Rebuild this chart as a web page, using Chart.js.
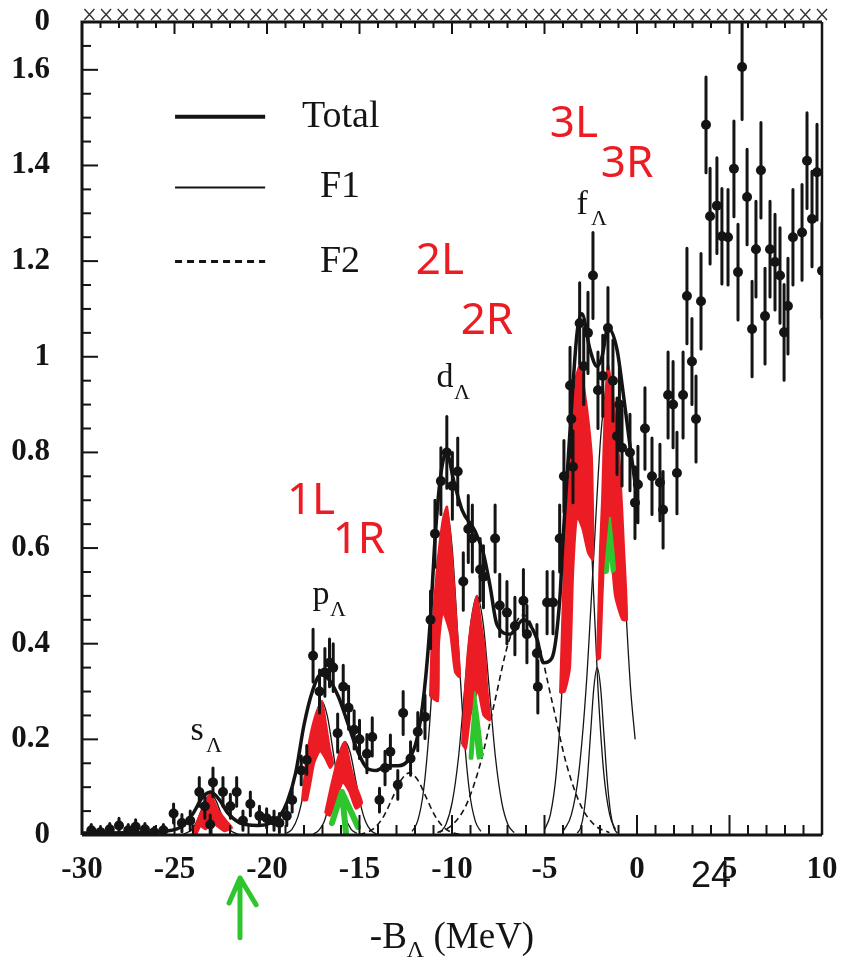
<!DOCTYPE html>
<html>
<head>
<meta charset="utf-8">
<title>-B&Lambda; spectrum</title>
<script src="https://cdn.jsdelivr.net/npm/chart.js@4.4.1/dist/chart.umd.min.js"></script>
<style>
  html, body { margin: 0; padding: 0; background: #fff; }
  #wrap { width: 843px; height: 963px; position: relative; }
</style>
</head>
<body>
<div id="wrap"><canvas id="spectrum"></canvas></div>
<script>
// measured spectrum: -B_Lambda (MeV), yield, error
const dataX = [-29.5,-29.0,-28.5,-28.0,-27.5,-27.1,-26.6,-26.1,-25.6,-25.05,-24.6,-24.15,-23.66,-23.36,-23.07,-22.92,-22.38,-21.98,-21.64,-21.3,
  -20.9,-20.41,-20.02,-19.62,-19.33,-18.93,-18.64,-18.15,-17.85,-17.51,-17.16,-16.87,-16.62,-16.42,-16.18,-15.88,-15.59,-15.29,-15.0,-14.6,
  -14.31,-13.92,-13.62,-13.33,-12.93,-12.64,-12.24,-11.85,-11.46,-11.16,-10.92,-10.6,-10.28,-9.98,-9.69,-9.39,-9.12,-8.9,-8.48,-8.3,
  -7.67,-7.42,-7.03,-6.6,-6.14,-5.95,-5.41,-5.36,-4.86,-4.54,-4.18,-3.95,-3.62,-3.55,-3.46,-3.1,-2.88,-2.65,-2.38,-2.11,
  -1.85,-1.57,-1.3,-1.08,-0.95,-0.81,-0.38,-0.11,0.05,0.43,0.81,1.24,1.41,1.68,1.95,2.16,2.49,2.7,2.97,3.19,
  3.46,3.73,3.95,4.32,4.59,4.92,5.24,5.46,5.68,5.95,6.22,6.43,6.7,6.92,7.19,7.46,7.73,7.95,8.16,8.43,
  8.92,9.19,9.46,9.73,10.0];
const dataY = [0.010,0.006,0.012,0.020,0.010,0.017,0.012,0.006,0.010,0.045,0.025,0.030,0.090,0.060,0.022,0.110,0.090,0.060,0.090,0.030,
  0.065,0.040,0.035,0.030,0.025,0.040,0.073,0.135,0.157,0.375,0.300,0.340,0.360,0.350,0.213,0.310,0.266,0.220,0.200,0.170,
  0.205,0.073,0.140,0.174,0.105,0.255,0.160,0.216,0.247,0.450,0.630,0.740,0.800,0.730,0.760,0.530,0.640,0.620,0.555,0.540,
  0.620,0.480,0.465,0.437,0.490,0.420,0.380,0.310,0.486,0.486,0.620,0.750,0.940,0.870,0.770,1.070,0.980,1.050,1.170,0.930,
  0.960,1.060,0.950,0.834,0.900,0.810,0.800,0.695,0.733,0.850,0.750,0.737,0.680,0.920,0.900,0.757,0.920,1.127,0.990,0.870,
  1.116,1.485,1.294,1.316,1.252,1.250,1.393,1.177,1.606,1.334,1.058,1.225,1.390,1.085,1.225,1.198,1.170,1.051,1.106,1.250,
  1.260,1.410,1.288,1.386,1.180];
const dataErr = [0.012,0.010,0.012,0.015,0.012,0.015,0.012,0.010,0.012,0.020,0.018,0.020,0.030,0.025,0.020,0.030,0.030,0.025,0.030,0.020,
  0.025,0.020,0.020,0.020,0.020,0.020,0.025,0.030,0.030,0.055,0.045,0.050,0.050,0.050,0.040,0.045,0.045,0.040,0.040,0.040,
  0.040,0.025,0.035,0.035,0.030,0.045,0.035,0.040,0.045,0.060,0.070,0.070,0.075,0.070,0.070,0.060,0.070,0.070,0.065,0.065,
  0.070,0.065,0.065,0.060,0.065,0.060,0.060,0.055,0.065,0.065,0.070,0.075,0.080,0.080,0.075,0.085,0.080,0.085,0.090,0.080,
  0.085,0.085,0.085,0.080,0.085,0.080,0.080,0.075,0.080,0.085,0.080,0.080,0.080,0.090,0.090,0.085,0.090,0.100,0.090,0.090,
  0.100,0.100,0.100,0.100,0.100,0.100,0.100,0.100,0.110,0.100,0.100,0.100,0.100,0.100,0.100,0.100,0.100,0.100,0.100,0.100,
  0.100,0.100,0.100,0.100,0.100];

// total fit
const totalFit = [[-30,0.004],[-27,0.005],[-25.5,0.008],[-24.6,0.018],[-24.0,0.045],[-23.5,0.078],[-23.05,0.09],[-22.6,0.075],
  [-22.1,0.045],[-21.5,0.026],[-20.5,0.02],[-19.8,0.025],[-19.3,0.04],[-18.9,0.07],[-18.45,0.13],[-18.0,0.23],[-17.55,0.3],
  [-17.1,0.335],[-16.65,0.325],[-16.15,0.29],[-15.6,0.23],[-15.1,0.175],[-14.6,0.14],[-14.1,0.135],[-13.5,0.145],[-12.9,0.145],
  [-12.4,0.155],[-11.9,0.2],[-11.5,0.3],[-11.16,0.456],[-10.95,0.6],[-10.65,0.74],[-10.3,0.8],[-9.9,0.74],[-9.46,0.68],
  [-8.75,0.635],[-8.31,0.59],[-7.94,0.52],[-7.57,0.44],[-6.86,0.42],[-6.14,0.45],[-5.41,0.41],[-5.06,0.36],[-4.6,0.37],
  [-4.18,0.49],[-3.98,0.63],[-3.63,0.84],[-3.24,1.05],[-2.98,1.09],[-2.54,1.015],[-2.16,0.98],[-1.89,1.0],[-1.57,1.06],
  [-1.08,1.015],[-0.75,0.925],[-0.4,0.82],[-0.05,0.72]];

// F1 components (thin solid)
const f1S = [[-24.55,0.001],[-24.05,0.012],[-23.8,0.028],[-23.55,0.052],[-23.3,0.075],[-23.05,0.085],[-22.8,0.075],[-22.55,0.052],[-22.3,0.028],[-22.05,0.012],[-21.55,0.001]];
const f1P1 = [[-18.97,0.003],[-18.65,0.012],[-18.33,0.038],[-18.01,0.091],[-17.69,0.17],[-17.37,0.247],[-17.05,0.28],[-16.73,0.247],[-16.41,0.17],[-16.09,0.091],[-15.77,0.038],[-15.45,0.012],[-15.13,0.003]];
const f1P2 = [[-17.5,0.002],[-17.22,0.009],[-16.93,0.026],[-16.65,0.063],[-16.36,0.118],[-16.08,0.172],[-15.79,0.195],[-15.5,0.172],[-15.22,0.118],[-14.94,0.063],[-14.65,0.026],[-14.37,0.009],[-14.08,0.002]];
const f1D1 = [[-12.16,0.0075],[-11.85,0.03],[-11.54,0.092],[-11.23,0.221],[-10.92,0.412],[-10.61,0.6],[-10.3,0.68],[-9.99,0.6],[-9.68,0.412],[-9.37,0.221],[-9.06,0.092],[-8.75,0.03],[-8.44,0.0075]];
const f1D2 = [[-10.66,0.005],[-10.33,0.022],[-9.99,0.068],[-9.65,0.162],[-9.32,0.303],[-8.99,0.441],[-8.65,0.5],[-8.31,0.441],[-7.98,0.303],[-7.65,0.162],[-7.31,0.068],[-6.98,0.022],[-6.64,0.005]];
const f1F1 = [[-5.0,0.011],[-4.68,0.043],[-4.36,0.131],[-4.04,0.315],[-3.72,0.588],[-3.4,0.856],[-3.08,0.97],[-2.76,0.856],[-2.44,0.588],[-2.12,0.315],[-1.8,0.131],[-1.48,0.043],[-1.16,0.011]];
const f1F2 = [[-3.95,0.01],[-3.55,0.042],[-3.15,0.129],[-2.75,0.308],[-2.35,0.576],[-1.95,0.838],[-1.55,0.95],[-1.15,0.838],[-0.75,0.576],[-0.35,0.308],[-0.1,0.2]];
const f1F3 = [[-3.23,0.004],[-3.05,0.015],[-2.87,0.047],[-2.69,0.114],[-2.51,0.212],[-2.33,0.309],[-2.15,0.35],[-1.97,0.309],[-1.79,0.212],[-1.61,0.114],[-1.43,0.047],[-1.25,0.015],[-1.07,0.004]];

// F2 components (dashed)
const f2A = [[-15.0,0.001],[-14.55,0.006],[-14.1,0.018],[-13.65,0.042],[-13.2,0.079],[-12.75,0.115],[-12.3,0.13],[-11.85,0.115],[-11.4,0.079],[-10.95,0.042],[-10.5,0.018],[-10.05,0.006],[-9.6,0.001]];
const f2B = [[-10.79,0.005],[-10.02,0.02],[-9.24,0.062],[-8.47,0.149],[-7.69,0.279],[-6.92,0.406],[-6.14,0.46],[-5.37,0.406],[-4.59,0.279],[-3.82,0.149],[-3.04,0.062],[-2.27,0.02],[-1.49,0.005]];

// red highlighted peaks
const redS = [[-24.05,0.0],[-23.6,0.045],[-23.08,0.085],[-22.6,0.05],[-22.2,0.03],[-21.89,0.015],[-22.3,0.008],[-22.75,0.02],[-23.0,0.03],[-23.3,0.012],[-23.6,0.018],[-23.85,0.0]];
const redP1 = [[-18.11,0.073],[-17.9,0.15],[-17.68,0.205],[-17.35,0.255],[-17.03,0.28],[-16.8,0.23],[-16.6,0.18],[-16.43,0.15],[-16.59,0.14],[-16.85,0.16],[-17.14,0.175],[-17.45,0.15],[-17.84,0.073]];
const redP2 = [[-16.86,0.046],[-16.5,0.11],[-16.1,0.17],[-15.78,0.195],[-15.45,0.14],[-15.15,0.1],[-14.86,0.067],[-15.2,0.055],[-15.55,0.09],[-15.9,0.11],[-16.3,0.07],[-16.6,0.04]];
const redD1 = [[-11.19,0.29],[-11.08,0.42],[-10.81,0.56],[-10.5,0.66],[-10.27,0.687],[-10.1,0.63],[-9.95,0.56],[-9.75,0.44],[-9.57,0.33],[-9.84,0.34],[-10.1,0.42],[-10.49,0.465],[-10.7,0.4],[-10.76,0.28]];
const redD2 = [[-9.46,0.19],[-9.3,0.3],[-9.14,0.387],[-8.9,0.46],[-8.65,0.5],[-8.45,0.45],[-8.22,0.387],[-8.1,0.31],[-7.95,0.24],[-8.3,0.25],[-8.6,0.3],[-9.0,0.25],[-9.25,0.18]];
const redF1 = [[-4.16,0.297],[-3.89,0.632],[-3.62,0.84],[-3.35,0.95],[-3.08,0.983],[-2.8,0.92],[-2.6,0.86],[-2.43,0.785],[-2.38,0.576],[-2.65,0.59],[-2.95,0.64],[-3.24,0.665],[-3.45,0.55],[-3.62,0.35],[-3.9,0.3]];
const redF2 = [[-2.16,0.366],[-2.0,0.6],[-1.89,0.7],[-1.75,0.88],[-1.57,0.983],[-1.3,0.92],[-1.1,0.84],[-0.92,0.77],[-0.7,0.6],[-0.54,0.45],[-0.8,0.45],[-1.19,0.5],[-1.5,0.62],[-1.8,0.55],[-2.0,0.37]];

// green arrows
const greenP = [[-16.49,0.025],[-15.95,0.09],[-15.08,0.017],null,[-15.95,0.09],[-15.73,0.004]];
const greenD = [[-8.76,0.3],[-9.05,0.16],[-8.9,0.16],[-8.78,0.22],[-8.6,0.16],[-8.35,0.165]];
const greenF = [[-1.46,0.665],[-1.73,0.548],[-1.58,0.55],[-1.47,0.6],[-1.36,0.55],[-1.19,0.554]];
const greenAxis = [[-22.05,-0.142],[-21.46,-0.09],[-20.59,-0.146],null,[-21.46,-0.09],[-21.46,-0.215]];

// axis ticks
const xTicks = [-30,-25,-20,-15,-10,-5,0,5,10];
const yTicks = [0,0.2,0.4,0.6,0.8,1,1.2,1.4,1.6];
const yTopLabel = '0';

// text annotations (anchors in axis units)
const shellNames = ['s','p','d','f'];
const shellX = [-23.78,-17.08,-10.38,-2.97];
const shellY = [0.218,0.502,0.956,1.318];
const markNames = ['1L','1R','2L','2R','3L','3R'];
const markX = [-17.62,-15.03,-10.65,-8.11,-3.41,-0.54];
const markY = [0.697,0.615,1.199,1.073,1.485,1.402];
const legendNames = ['Total','F1','F2'];
const legendLineX = [-24.97,-20.1];
const legendTextX = [-18.11,-17.14,-17.14];
const legendRowY = [1.502,1.354,1.199];

const INK = '#141414';
const RED = '#ec1c24';
const GREEN = '#2ec52e';
const SERIF = "'Liberation Serif', 'DejaVu Serif', serif";

const toPts = arr => arr.map(p => p ? {x: p[0], y: p[1]} : {x: null, y: null});

function curve(pts, width, dash, order) {
  return {
    data: toPts(pts), showLine: true, borderColor: INK, borderWidth: width,
    borderDash: dash, pointRadius: 0, cubicInterpolationMode: 'monotone', fill: false, order
  };
}
function blob(pts, color, order) {
  const closed = pts.concat([pts[0]]);
  return {
    data: toPts(closed), showLine: true, borderColor: color, backgroundColor: color,
    borderWidth: 2, pointRadius: 0, tension: 0.2, fill: 'shape', order
  };
}
function stroke(pts, color, width, order, clip) {
  return {
    data: toPts(pts), showLine: true, spanGaps: false, borderColor: color, borderWidth: width,
    borderCapStyle: 'round', borderJoinStyle: 'round', pointRadius: 0, tension: 0, fill: false, order, clip
  };
}

// error bars as vertical segments separated by gaps
const errSegments = [];
dataX.forEach((x, i) => {
  errSegments.push([x, dataY[i] - dataErr[i]], [x, dataY[i] + dataErr[i]], null);
});

const datasets = [
  curve(totalFit, 3.5, [], 0),
  {
    data: dataX.map((x, i) => ({x, y: dataY[i]})), showLine: false,
    pointRadius: 5, pointBackgroundColor: INK, pointBorderColor: INK, pointBorderWidth: 0, order: 1
  },
  stroke(errSegments, INK, 3, 2),
  blob(greenD, GREEN, 3),
  blob(greenF, GREEN, 3),
  stroke(greenP, GREEN, 6, 3),
  stroke(greenAxis, GREEN, 5, 3, false),
  blob(redS, RED, 4), blob(redP1, RED, 4), blob(redP2, RED, 4),
  blob(redD1, RED, 4), blob(redD2, RED, 4), blob(redF1, RED, 4), blob(redF2, RED, 4),
  curve(f1S, 1.3, [], 5), curve(f1P1, 1.3, [], 5), curve(f1P2, 1.3, [], 5),
  curve(f1D1, 1.3, [], 5), curve(f1D2, 1.3, [], 5), curve(f1F1, 1.3, [], 5),
  curve(f1F2, 1.3, [], 5), curve(f1F3, 1.3, [], 5),
  curve(f2A, 1.6, [6, 4], 6), curve(f2B, 1.6, [6, 4], 6)
];

// frame, inward ticks, legend and labels
const decor = {
  id: 'decor',
  afterDatasetsDraw(chart) {
    const {ctx, chartArea: a, scales: {x, y}} = chart;
    ctx.save();
    ctx.strokeStyle = INK;
    ctx.lineCap = 'butt';

    // frame
    ctx.lineWidth = 3;
    ctx.beginPath();
    ctx.moveTo(a.left, a.bottom); ctx.lineTo(a.left, a.top); ctx.lineTo(a.right, a.top);
    ctx.moveTo(a.left, a.bottom); ctx.lineTo(a.right, a.bottom);
    ctx.stroke();
    ctx.lineWidth = 2.5;
    ctx.beginPath(); ctx.moveTo(a.right, a.top); ctx.lineTo(a.right, a.bottom); ctx.stroke();

    // x ticks along bottom and top
    ctx.lineWidth = 2;
    for (let v = -30; v <= 10; v++) {
      const px = x.getPixelForValue(v);
      const len = v % 5 === 0 ? 20 : 10;
      ctx.beginPath();
      ctx.moveTo(px, a.bottom); ctx.lineTo(px, a.bottom - len);
      ctx.moveTo(px, a.top); ctx.lineTo(px, a.top + len * 0.6);
      ctx.stroke();
    }
    // y ticks along the left side
    for (let k = 0; k <= 34; k++) {
      const py = y.getPixelForValue(k * 0.05);
      const len = k % 4 === 0 ? 16 : 9;
      ctx.beginPath(); ctx.moveTo(a.left, py); ctx.lineTo(a.left + len, py); ctx.stroke();
    }
    // rough hatching above the top edge
    ctx.lineWidth = 1.4;
    ctx.strokeStyle = '#333';
    for (let v = -29.6; v < 10; v += 0.9) {
      const px = x.getPixelForValue(v);
      ctx.beginPath();
      ctx.moveTo(px - 5, a.top - 13); ctx.lineTo(px + 5, a.top - 2);
      ctx.moveTo(px + 5, a.top - 13); ctx.lineTo(px - 5, a.top - 2);
      ctx.stroke();
    }
    ctx.strokeStyle = INK;

    // legend
    ctx.fillStyle = INK;
    ctx.font = '38px ' + SERIF;
    ctx.textBaseline = 'middle';
    ctx.textAlign = 'left';
    const lx0 = x.getPixelForValue(legendLineX[0]);
    const lx1 = x.getPixelForValue(legendLineX[1]);
    const legendWidth = [4, 2, 3];
    const legendDash = [[], [], [7, 5]];
    legendNames.forEach((name, i) => {
      const py = y.getPixelForValue(legendRowY[i]);
      ctx.lineWidth = legendWidth[i];
      ctx.setLineDash(legendDash[i]);
      ctx.beginPath(); ctx.moveTo(lx0, py); ctx.lineTo(lx1, py); ctx.stroke();
      ctx.setLineDash([]);
      ctx.fillText(name, x.getPixelForValue(legendTextX[i]), py);
    });

    // shell labels with Lambda subscript
    ctx.textAlign = 'center';
    shellNames.forEach((s, i) => {
      const px = x.getPixelForValue(shellX[i]);
      const py = y.getPixelForValue(shellY[i]);
      ctx.font = '34px ' + SERIF;
      ctx.fillText(s, px, py);
      ctx.font = '22px ' + SERIF;
      ctx.fillText('\u039b', px + 17, py + 15);
    });

    // red hand-written shell marks
    ctx.fillStyle = RED;
    ctx.font = '44px "Noto Sans", "DejaVu Sans", sans-serif';
    markNames.forEach((m, i) => {
      ctx.fillText(m, x.getPixelForValue(markX[i]), y.getPixelForValue(markY[i]));
    });

    // axis title
    ctx.fillStyle = INK;
    ctx.textAlign = 'left';
    ctx.textBaseline = 'alphabetic';
    ctx.font = '37px ' + SERIF;
    const partA = '-B';
    const partB = ' (MeV)';
    const wA = ctx.measureText(partA).width;
    const wB = ctx.measureText(partB).width;
    ctx.font = '24px ' + SERIF;
    const wL = ctx.measureText('\u039b').width;
    const total = wA + wL + wB;
    let tx = (a.left + a.right) / 2 - total / 2;
    const base = a.bottom + 113;
    ctx.font = '37px ' + SERIF;
    ctx.fillText(partA, tx, base);
    ctx.font = '24px ' + SERIF;
    ctx.fillText('\u039b', tx + wA, base + 9);
    ctx.font = '37px ' + SERIF;
    ctx.fillText(partB, tx + wA + wL, base);

    // page number
    ctx.font = '36px "Liberation Sans", Arial, sans-serif';
    ctx.textAlign = 'center';
    ctx.textBaseline = 'middle';
    ctx.fillText('24', x.getPixelForValue(4.0), a.bottom + 42);
    ctx.restore();
  }
};

new Chart(document.getElementById('spectrum'), {
  type: 'scatter',
  data: {datasets},
  options: {
    responsive: true,
    maintainAspectRatio: false,
    animation: false,
    events: [],
    layout: {padding: {top: 22, right: 21, left: 0, bottom: 0}},
    plugins: {legend: {display: false}, tooltip: {enabled: false}},
    scales: {
      x: {
        type: 'linear', min: -30, max: 10,
        grid: {display: false}, border: {display: false},
        ticks: {
          stepSize: 5, autoSkip: false, maxRotation: 0, padding: 8, color: INK,
          font: {family: SERIF, size: 31, weight: 'bold'},
          callback: v => xTicks.includes(v) ? String(v) : ''
        },
        afterFit: s => { s.height = 128; s.paddingLeft = 0; s.paddingRight = 0; }
      },
      y: {
        type: 'linear', min: 0, max: 1.7,
        grid: {display: false}, border: {display: false},
        ticks: {
          stepSize: 0.05, autoSkip: false, padding: 24, color: INK,
          font: {family: SERIF, size: 31, weight: 'bold'},
          callback: v => {
            const k = Math.round(v * 100);
            if (k === 170) return yTopLabel;
            const hit = yTicks.find(t => Math.round(t * 100) === k);
            return hit !== undefined ? String(hit) : '';
          }
        },
        afterFit: s => { s.width = 82; s.paddingTop = 0; s.paddingBottom = 0; }
      }
    }
  },
  plugins: [decor]
});
</script>
</body>
</html>
